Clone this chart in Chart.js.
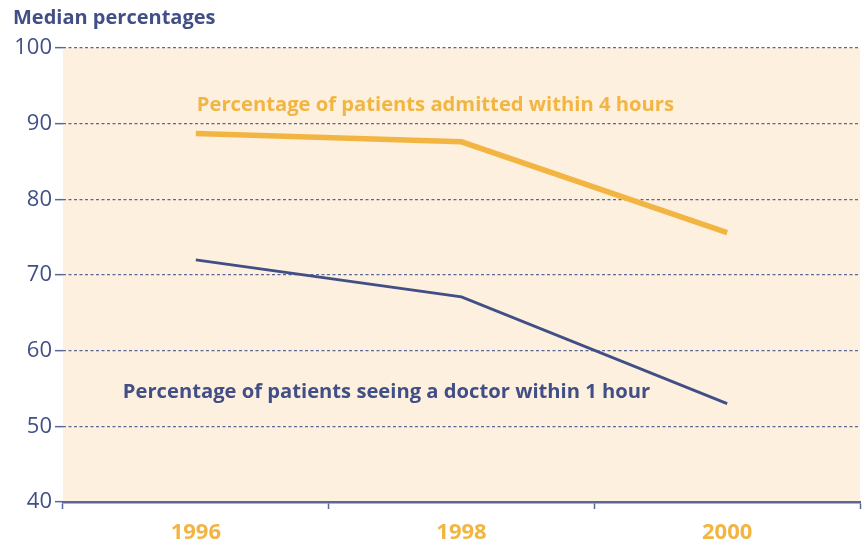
<!DOCTYPE html>
<html><head><meta charset="utf-8">
<script src="https://cdn.jsdelivr.net/npm/chart.js@4"></script>
<style>html,body{margin:0;padding:0;background:#fff}#wrap{width:864px;height:552px}</style>
</head><body><div id="wrap"><canvas id="c" width="864" height="552"></canvas></div>
<script>
const years = ['1996', '1998', '2000'];
const admittedWithin4h = [88.7, 87.6, 75.6];
const doctorWithin1h = [72.0, 67.1, 53.0];
const yTicks = [40, 50, 60, 70, 80, 90, 100];

const BLUE = '#414f86';
const ORANGE = '#f3b542';
const BG = '#fdf0de';
const FONT = '"Open Sans", "Noto Sans", sans-serif';

const bgPlugin = {
  id: 'bg',
  beforeDraw(chart) {
    const a = chart.chartArea, ctx = chart.ctx;
    ctx.save(); ctx.fillStyle = BG;
    ctx.fillRect(a.left, a.top, a.right - a.left, a.bottom - a.top);
    ctx.restore();
  }
};
const labelPlugin = {
  id: 'seriesLabels',
  afterDatasetsDraw(chart) {
    const ctx = chart.ctx, x = chart.scales.x, y = chart.scales.y;
    ctx.save();
    ctx.textBaseline = 'middle'; ctx.textAlign = 'left';
    ctx.font = 'bold 20.2px ' + FONT;
    ctx.fillStyle = ORANGE;
    ctx.fillText('Percentage of patients admitted within 4 hours', x.getPixelForValue(0) + 1, y.getPixelForValue(92.4));
    ctx.fillStyle = BLUE;
    ctx.fillText('Percentage of patients seeing a doctor within 1 hour', x.getPixelForValue(0) - 73, y.getPixelForValue(54.5));
    ctx.restore();
  }
};

new Chart(document.getElementById('c'), {
  type: 'line',
  data: {
    labels: years,
    datasets: [
      { data: admittedWithin4h, borderColor: ORANGE, borderWidth: 5.5, pointRadius: 0, tension: 0, fill: false },
      { data: doctorWithin1h, borderColor: BLUE, borderWidth: 2.8, pointRadius: 0, tension: 0, fill: false }
    ]
  },
  options: {
    responsive: false, animation: false,
    layout: { padding: { left: 13, right: 4, top: 0, bottom: 0 } },
    plugins: {
      legend: { display: false }, tooltip: { enabled: false },
      title: { display: true, text: 'Median percentages', align: 'start', color: BLUE,
        font: { family: FONT, size: 20, weight: 'bold' }, padding: { top: 6, bottom: 18 } }
    },
    scales: {
      x: {
        type: 'category', offset: true,
        border: { display: true, color: '#5a6898', width: 2.5 },
        grid: { offset: true, drawOnChartArea: false, drawTicks: true, tickLength: 7, tickColor: '#5a6898', tickWidth: 1.5 },
        ticks: { color: ORANGE, font: { family: FONT, size: 22, weight: 'bold' }, padding: 11 },
        afterFit(s) { s.height = 50; }
      },
      y: {
        min: 40, max: 100,
        afterBuildTicks(s) { s.ticks = yTicks.map(v => ({ value: v })); },
        border: { display: false, dash: [3, 2.5] },
        grid: {
          color: ctx => ctx.tick && ctx.tick.value === 40 ? 'rgba(0,0,0,0)' : '#5a6898',
          lineWidth: 1.3, tickLength: 8, tickColor: '#5a6898', tickWidth: 1.5, tickBorderDash: []
        },
        ticks: { color: BLUE, font: { family: FONT, size: 22 }, padding: 3 },
        afterFit(s) { s.width = 50; }
      }
    }
  },
  plugins: [bgPlugin, labelPlugin]
});
</script></body></html>
